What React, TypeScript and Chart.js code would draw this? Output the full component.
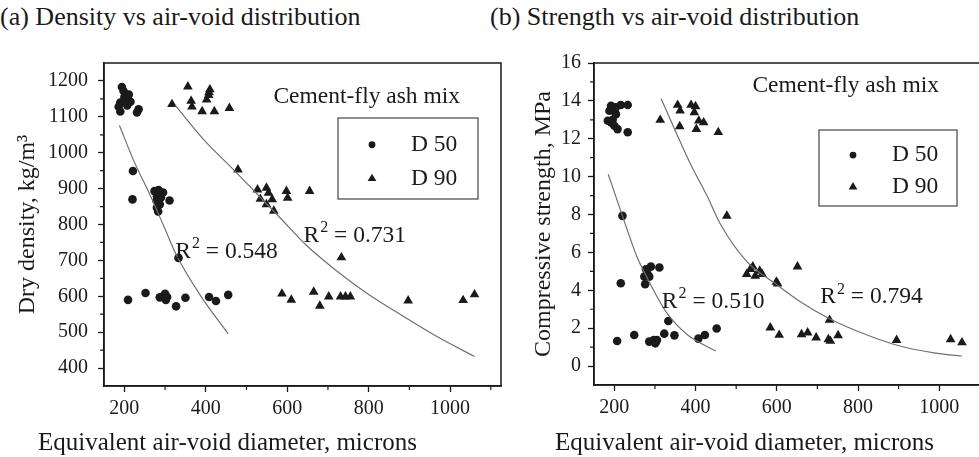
import React, { useEffect, useRef } from 'react';
import { Chart, registerables } from 'chart.js';

Chart.register(...registerables);

const FONT = '"Liberation Serif", "Times New Roman", serif';
const INK = '#1a1a1a';
const CURVE = '#707070';
const NOTE_SIZE = 23.5;

// ---------- shared axis ----------
const xTicks = [200, 400, 600, 800, 1000];
const xMinorTicks = [300, 500, 700, 900, 1100];

// ---------- (a) Dry density ----------
const densYTicks = [400, 500, 600, 700, 800, 900, 1000, 1100, 1200];
const densYMinor = [450, 550, 650, 750, 850, 950, 1050, 1150];

const densD50X = [194, 198, 211, 200, 190, 202, 215, 207, 186, 190, 235, 231,
  221, 220, 274, 284, 295, 280, 290, 279, 287, 280, 283, 311,
  333,
  209, 252, 287, 295, 300, 302, 305, 327, 350, 408, 425, 455];
const densD50Y = [1183, 1172, 1162, 1155, 1140, 1145, 1142, 1132, 1128, 1115, 1121, 1112,
  949, 870, 893, 896, 889, 879, 875, 866, 856, 847, 836, 867,
  707,
  590, 609, 597, 600, 607, 590, 598, 572, 596, 598, 587, 604];

const densD90X = [317, 356, 364, 366, 391, 402, 407, 410, 408, 421, 458,
  479, 527, 549, 554, 534, 549, 563, 567, 598, 601, 655,
  733,
  587, 610, 665, 680, 702, 731, 743, 755, 897, 1032, 1060];
const densD90Y = [1135, 1184, 1144, 1128, 1115, 1148, 1160, 1176, 1168, 1115, 1124,
  953, 897, 902, 888, 871, 856, 870, 838, 893, 874, 893,
  708,
  607, 590, 612, 573, 599, 599, 599, 599, 588, 589, 605];

const densFit50X = [188, 223, 264, 297, 329, 387, 455];
const densFit50Y = [1076, 978, 880, 795, 712, 602, 495];
const densFit90X = [325, 400, 460, 520, 583, 649, 720, 800, 880, 960, 1060];
const densFit90Y = [1132, 1030, 962, 892, 818, 740, 672, 605, 548, 493, 432];

// ---------- (b) Compressive strength ----------
const strYTicks = [0, 2, 4, 6, 8, 10, 12, 14, 16];
const strYMinor = [1, 3, 5, 7, 9, 11, 13, 15];

const strD50X = [192, 204, 216, 233, 188, 204, 196, 184, 192, 200, 208, 233,
  220, 216, 278, 290, 311, 282, 274, 286, 276, 333,
  207, 249, 286, 297, 301, 305, 323, 348, 407, 423, 452];
const strD50Y = [13.74, 13.66, 13.78, 13.78, 13.48, 13.3, 13.0, 12.95, 12.86, 12.69, 12.51, 12.34,
  7.93, 4.37, 5.11, 5.25, 5.2, 4.85, 4.72, 4.72, 4.32, 2.38,
  1.32, 1.64, 1.29, 1.37, 1.2, 1.37, 1.71, 1.62, 1.45, 1.64, 1.98];

const strD90X = [313, 356, 362, 361, 389, 400, 397, 408, 420, 402, 456,
  477,
  541, 526, 547, 564, 558, 535, 599, 602, 651,
  584, 606, 661, 676, 697, 727, 732, 730, 751, 895, 1028, 1056];
const strD90Y = [12.99, 13.78, 13.48, 12.65, 13.78, 13.71, 13.39, 12.95, 12.86, 12.51, 12.34,
  7.93,
  5.25, 4.85, 4.76, 4.85, 5.02, 5.11, 4.44, 4.35, 5.25,
  2.03, 1.64, 1.67, 1.76, 1.5, 1.41, 1.32, 2.43, 1.62, 1.37, 1.41, 1.24];

const strFit50X = [185, 220, 257, 274, 303, 331, 380, 450];
const strFit50Y = [10.13, 7.93, 5.7, 4.95, 3.75, 2.75, 1.65, 0.79];
const strFit90X = [315, 387, 428, 461, 527, 600, 658, 730, 821, 896, 987, 1056];
const strFit90Y = [14.13, 10.7, 9.0, 7.5, 5.5, 4.3, 3.4, 2.5, 1.65, 1.1, 0.7, 0.53];

const pts = (xs: number[], ys: number[]) => xs.map((x, i) => ({ x, y: ys[i] }));

const decorPlugin = {
  id: 'decor',
  afterDraw(chart: any, _args: any, opts: any) {
    const { ctx, chartArea: ca } = chart;
    const xs = chart.scales.x;
    const ys = chart.scales.y;
    ctx.save();
    // frame
    ctx.strokeStyle = INK;
    ctx.lineWidth = 1.5;
    ctx.strokeRect(ca.left, ca.top, ca.right - ca.left, ca.bottom - ca.top);
    // minor ticks
    ctx.lineWidth = 1.2;
    ctx.beginPath();
    for (const v of opts.minorX) {
      const px = xs.getPixelForValue(v);
      ctx.moveTo(px, ca.bottom);
      ctx.lineTo(px, ca.bottom + 4);
    }
    for (const v of opts.minorY) {
      const py = ys.getPixelForValue(v);
      ctx.moveTo(ca.left, py);
      ctx.lineTo(ca.left - 4, py);
    }
    ctx.stroke();
    // annotations
    ctx.fillStyle = INK;
    ctx.textBaseline = 'middle';
    ctx.textAlign = 'left';
    for (const n of opts.notes) {
      let px = xs.getPixelForValue(n.x);
      const py = ys.getPixelForValue(n.y);
      ctx.font = `${NOTE_SIZE}px ${FONT}`;
      ctx.fillText(n.text, px, py);
      px += ctx.measureText(n.text).width;
      if (n.sup) {
        ctx.font = `16px ${FONT}`;
        ctx.fillText(n.sup, px + 1, py - 8);
        px += ctx.measureText(n.sup).width + 1;
      }
      if (n.after) {
        ctx.font = `${NOTE_SIZE}px ${FONT}`;
        ctx.fillText(n.after, px, py);
      }
    }
    // legend box
    const lg = opts.legend;
    const bx = ca.left + lg.dx;
    const by = ca.top + lg.dy;
    ctx.strokeStyle = '#444';
    ctx.lineWidth = 1.2;
    ctx.strokeRect(bx, by, lg.w, lg.h);
    const rows = [by + lg.h * 0.33, by + lg.h * 0.745];
    const labels = [chart.data.datasets[2].label, chart.data.datasets[3].label];
    ctx.beginPath();
    ctx.arc(bx + 34, rows[0], 3.4, 0, Math.PI * 2);
    ctx.fill();
    const tr = 4.6;
    ctx.beginPath();
    ctx.moveTo(bx + 34, rows[1] - tr);
    ctx.lineTo(bx + 34 + tr * 0.95, rows[1] + tr * 0.6);
    ctx.lineTo(bx + 34 - tr * 0.95, rows[1] + tr * 0.6);
    ctx.closePath();
    ctx.fill();
    ctx.font = `${NOTE_SIZE}px ${FONT}`;
    ctx.fillText(labels[0], bx + 73, rows[0]);
    ctx.fillText(labels[1], bx + 73, rows[1]);
    ctx.restore();
  },
};

function makeConfig(p: any) {
  const tickFont = { family: FONT, size: 20 };
  const plain = (v: any) => String(v);
  return {
    type: 'scatter',
    data: {
      datasets: [
        {
          label: 'D 50 fit', data: pts(p.fit50X, p.fit50Y), showLine: true,
          borderColor: CURVE, borderWidth: 1.2, pointRadius: 0, cubicInterpolationMode: 'monotone',
        },
        {
          label: 'D 90 fit', data: pts(p.fit90X, p.fit90Y), showLine: true,
          borderColor: CURVE, borderWidth: 1.2, pointRadius: 0, cubicInterpolationMode: 'monotone',
        },
        {
          label: 'D 50', data: pts(p.d50X, p.d50Y), pointStyle: 'circle', pointRadius: 4.3,
          backgroundColor: INK, borderWidth: 0,
        },
        {
          label: 'D 90', data: pts(p.d90X, p.d90Y), pointStyle: 'triangle', pointRadius: 5.6,
          backgroundColor: INK, borderWidth: 0,
        },
      ],
    },
    options: {
      animation: false,
      responsive: false,
      events: [],
      layout: { padding: { top: 63, right: p.padRight, left: 0, bottom: 0 } },
      plugins: {
        legend: { display: false },
        tooltip: { enabled: false },
        decor: { minorX: xMinorTicks, minorY: p.minorY, notes: p.notes, legend: p.legend },
      },
      scales: {
        x: {
          type: 'linear', min: 150, max: 1125,
          afterBuildTicks: (s: any) => { s.ticks = xTicks.map((v) => ({ value: v })); },
          afterFit: (s: any) => { s.height = p.xAxisH; },
          ticks: { font: tickFont, color: INK, padding: 5, maxRotation: 0, autoSkip: false, callback: plain },
          grid: { drawOnChartArea: false, drawTicks: true, tickLength: 6, tickColor: INK, tickWidth: 1.3 },
          border: { display: true, color: INK, width: 1.5 },
        },
        y: {
          type: 'linear', min: p.yMin, max: p.yMax,
          afterBuildTicks: (s: any) => { s.ticks = p.yTicks.map((v: number) => ({ value: v })); },
          afterFit: (s: any) => { s.width = p.yAxisW; },
          ticks: { font: tickFont, color: INK, padding: p.yTickPad, autoSkip: false, callback: plain },
          grid: { drawOnChartArea: false, drawTicks: true, tickLength: 6, tickColor: INK, tickWidth: 1.3 },
          border: { display: true, color: INK, width: 1.5 },
          title: {
            display: true, text: p.yTitle, color: INK,
            font: { family: FONT, size: 24 }, padding: { top: p.yTitlePad, bottom: 0 },
          },
        },
      },
    },
    plugins: [decorPlugin],
  };
}

function Panel(props: { left: number; width: number; params: any }) {
  const ref = useRef<HTMLCanvasElement | null>(null);
  useEffect(() => {
    if (!ref.current) return;
    const chart = new Chart(ref.current, makeConfig(props.params) as any);
    return () => chart.destroy();
  }, []);
  return (
    <canvas
      ref={ref}
      width={props.width}
      height={457}
      style={{ position: 'absolute', left: props.left, top: 0, width: props.width, height: 457 }}
    />
  );
}

const densParams = {
  d50X: densD50X, d50Y: densD50Y, d90X: densD90X, d90Y: densD90Y,
  fit50X: densFit50X, fit50Y: densFit50Y, fit90X: densFit90X, fit90Y: densFit90Y,
  yMin: 350, yMax: 1250, yTicks: densYTicks, minorY: densYMinor,
  yTitle: 'Dry density, kg/m³', yTitlePad: 13, yAxisW: 104, yTickPad: 10,
  xAxisH: 71, padRight: 9,
  notes: [
    { text: 'Cement-fly ash mix', x: 566, y: 1157 },
    { text: 'R', sup: '2', after: ' = 0.548', x: 325, y: 723 },
    { text: 'R', sup: '2', after: ' = 0.731', x: 640, y: 768 },
  ],
  legend: { dx: 234, dy: 55, w: 140, h: 81 },
};

const strParams = {
  d50X: strD50X, d50Y: strD50Y, d90X: strD90X, d90Y: strD90Y,
  fit50X: strFit50X, fit50Y: strFit50Y, fit90X: strFit90X, fit90Y: strFit90Y,
  yMin: -1, yMax: 16, yTicks: strYTicks, minorY: strYMinor,
  yTitle: 'Compressive strength, MPa', yTitlePad: 19, yAxisW: 84, yTickPad: 7,
  xAxisH: 72, padRight: 20,
  notes: [
    { text: 'Cement-fly ash mix', x: 540, y: 14.78 },
    { text: 'R', sup: '2', after: ' = 0.510', x: 317, y: 3.37 },
    { text: 'R', sup: '2', after: ' = 0.794', x: 707, y: 3.63 },
  ],
  legend: { dx: 225, dy: 67, w: 138, h: 76 },
};

const textStyle: React.CSSProperties = {
  position: 'absolute', fontFamily: FONT, lineHeight: 1,
  whiteSpace: 'nowrap', color: INK,
};

export default function App() {
  return (
    <div
      style={{
        position: 'fixed', left: 0, top: 0, width: 979, height: 457,
        overflow: 'hidden', background: '#ffffff',
      }}
    >
      <div style={{ ...textStyle, fontSize: 26, left: 0, top: 4 }}>(a) Density vs air-void distribution</div>
      <div style={{ ...textStyle, fontSize: 26, left: 490, top: 4 }}>(b) Strength vs air-void distribution</div>
      <Panel left={0} width={510} params={densParams} />
      <Panel left={510} width={500} params={strParams} />
      <div style={{ ...textStyle, fontSize: 25, left: 38, top: 429 }}>Equivalent air-void diameter, microns</div>
      <div style={{ ...textStyle, fontSize: 25, left: 555, top: 429 }}>Equivalent air-void diameter, microns</div>
    </div>
  );
}
